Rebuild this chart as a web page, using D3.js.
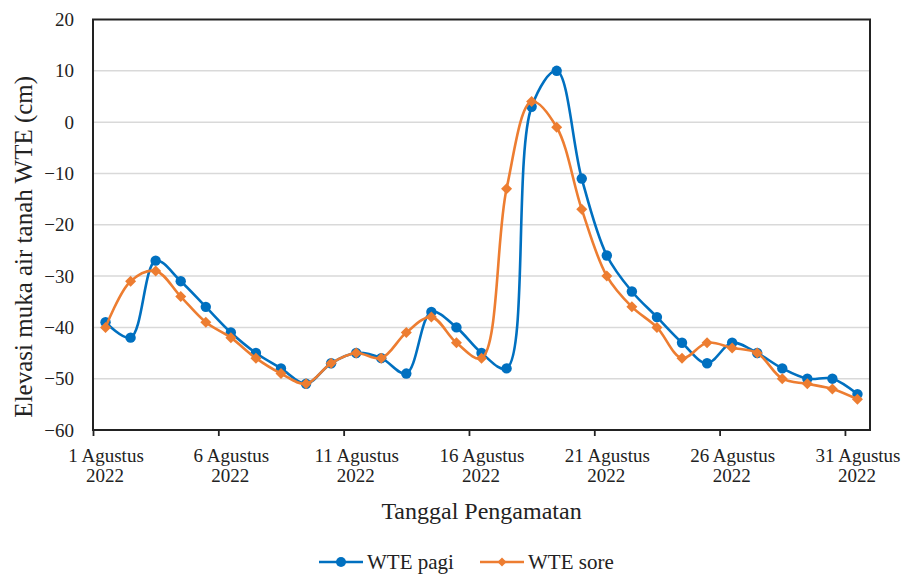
<!DOCTYPE html>
<html>
<head>
<meta charset="utf-8">
<script src="https://cdn.jsdelivr.net/npm/d3@7"></script>
<style>
  html, body { margin: 0; padding: 0; background: #fff; }
  svg { display: block; }
  text { font-family: "Liberation Serif", "DejaVu Serif", serif; }
</style>
</head>
<body>
<svg id="chart" width="907" height="574" font-family="Liberation Serif"></svg>
<script>
// ---- data ----
const days = [1,2,3,4,5,6,7,8,9,10,11,12,13,14,15,16,17,18,19,20,21,22,23,24,25,26,27,28,29,30,31];
const wtePagi = [-39,-42,-27,-31,-36,-41,-45,-48,-51,-47,-45,-46,-49,-37,-40,-45,-48,3,10,-11,-26,-33,-38,-43,-47,-43,-45,-48,-50,-50,-53];
const wteSore = [-40,-31,-29,-34,-39,-42,-46,-49,-51,-47,-45,-46,-41,-38,-43,-46,-13,4,-1,-17,-30,-36,-40,-46,-43,-44,-45,-50,-51,-52,-54];
const seriesNames = ["WTE pagi", "WTE sore"];
const yTicks = [20,10,0,-10,-20,-30,-40,-50,-60];
const xTickDays = [1,6,11,16,21,26,31];
const monthName = "Agustus";
const yearLabel = "2022";
const yTitle = "Elevasi muka air tanah WTE (cm)";
const xTitle = "Tanggal Pengamatan";

// ---- layout ----
const FONT = "Liberation Serif";
const svg = d3.select("#chart");
const pL = 93, pR = 870, pT = 19.5, pB = 430;
const colors = ["#0070C0", "#ED7D31"];

const x = d3.scaleUtc()
  .domain([new Date(Date.UTC(2022, 7, 1)), new Date(Date.UTC(2022, 8, 1))])
  .range([pL, pR]);
const y = d3.scaleLinear().domain([-60, 20]).range([pB, pT]);

const dateAt = d => new Date(Date.UTC(2022, 7, d, 12));
const halfDay = x(dateAt(1)) - x(new Date(Date.UTC(2022, 7, 1)));

// gridlines
svg.append("g").selectAll("line")
  .data(yTicks.filter(t => t !== -60 && t !== 20))
  .join("line")
  .attr("x1", pL).attr("x2", pR)
  .attr("y1", d => y(d)).attr("y2", d => y(d))
  .attr("stroke", "#d9d9d9").attr("stroke-width", 1.5);

// y axis labels
const yAxis = d3.axisLeft(y).tickValues(yTicks).tickSize(0).tickPadding(19).tickFormat(d3.format("d"));
const gy = svg.append("g").attr("transform", `translate(${pL},0)`).call(yAxis)
  .attr("font-family", FONT).attr("font-size", 19);
gy.select(".domain").remove();
gy.selectAll("text").attr("fill", "#222");

// x axis
const xAxis = d3.axisBottom(x)
  .tickValues(xTickDays.map(d => new Date(Date.UTC(2022, 7, d))))
  .tickSize(6).tickSizeOuter(0).tickFormat("");
const gx = svg.append("g").attr("transform", `translate(0,${pB})`).call(xAxis)
  .attr("font-family", FONT).attr("font-size", 19);
gx.select(".domain").remove();
gx.selectAll(".tick line").attr("stroke", "#222").attr("stroke-width", 1.8);
const tickG = gx.selectAll(".tick");
tickG.append("text")
  .attr("x", halfDay).attr("y", 32).attr("text-anchor", "middle").attr("fill", "#222")
  .text((d, i) => `${xTickDays[i]} ${monthName}`);
tickG.append("text")
  .attr("x", halfDay - 1).attr("y", 52).attr("text-anchor", "middle").attr("fill", "#222")
  .text(yearLabel);

// frame
svg.append("rect")
  .attr("x", pL).attr("y", pT)
  .attr("width", pR - pL).attr("height", pB - pT)
  .attr("fill", "none").attr("stroke", "#222").attr("stroke-width", 2);

// series
const line = d3.line()
  .x(d => x(dateAt(d.day)))
  .y(d => y(d.v))
  .curve(d3.curveCatmullRom.alpha(0.5));

const seriesData = [wtePagi, wteSore].map(vals => days.map((d, i) => ({day: d, v: vals[i]})));

const diamond = r => `M0,${-r}L${r},0L0,${r}L${-r},0Z`;

seriesData.forEach((data, si) => {
  const g = svg.append("g");
  g.append("path").datum(data)
    .attr("d", line).attr("fill", "none")
    .attr("stroke", colors[si]).attr("stroke-width", 2.6)
    .attr("stroke-linejoin", "round");
  if (si === 0) {
    g.selectAll("circle").data(data).join("circle")
      .attr("cx", d => x(dateAt(d.day))).attr("cy", d => y(d.v))
      .attr("r", 5.2).attr("fill", colors[si]);
  } else {
    g.selectAll("path.m").data(data).join("path").attr("class", "m")
      .attr("transform", d => `translate(${x(dateAt(d.day))},${y(d.v)})`)
      .attr("d", diamond(5.5)).attr("fill", colors[si]);
  }
});

// axis titles
svg.append("text")
  .attr("transform", `translate(32,${(pT + pB) / 2 + 22}) rotate(-90)`)
  .attr("text-anchor", "middle").attr("font-size", 25).attr("fill", "#222")
  .attr("font-family", FONT)
  .text(yTitle);

svg.append("text")
  .attr("x", (pL + pR) / 2).attr("y", 519)
  .attr("text-anchor", "middle").attr("font-size", 24).attr("fill", "#222")
  .attr("font-family", FONT)
  .text(xTitle);

// legend
const legendItems = [
  {name: seriesNames[0], x0: 319, color: colors[0], shape: "circle"},
  {name: seriesNames[1], x0: 480, color: colors[1], shape: "diamond"}
];
const ly = 562;
legendItems.forEach(it => {
  const g = svg.append("g");
  g.append("line").attr("x1", it.x0).attr("x2", it.x0 + 44).attr("y1", ly).attr("y2", ly)
    .attr("stroke", it.color).attr("stroke-width", 2.6);
  if (it.shape === "circle") {
    g.append("circle").attr("cx", it.x0 + 22).attr("cy", ly).attr("r", 5).attr("fill", it.color);
  } else {
    g.append("path").attr("transform", `translate(${it.x0 + 22},${ly})`).attr("d", diamond(4.5)).attr("fill", it.color);
  }
  g.append("text").attr("x", it.x0 + 48).attr("y", ly + 7)
    .attr("font-size", 21).attr("fill", "#222").attr("font-family", FONT).text(it.name);
});
</script>
</body>
</html>
